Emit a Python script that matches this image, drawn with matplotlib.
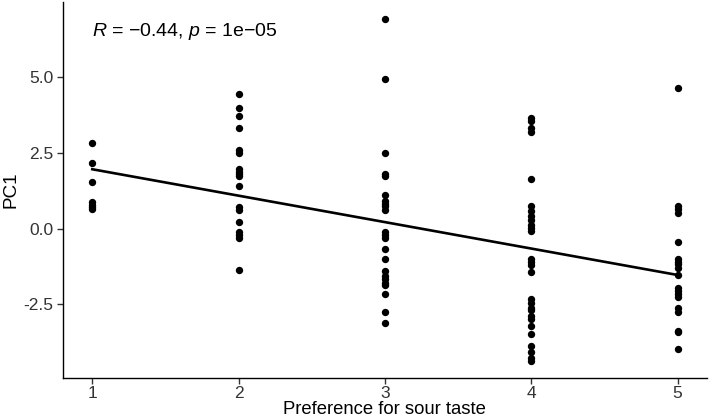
import numpy as np
import matplotlib
matplotlib.use("Agg")
import matplotlib.pyplot as plt

plt.rcParams['font.family'] = ['Liberation Sans', 'DejaVu Sans']
plt.rcParams['mathtext.fontset'] = 'custom'
plt.rcParams['mathtext.it'] = 'Liberation Sans:italic'
plt.rcParams['mathtext.rm'] = 'Liberation Sans'

pref1 = [2.82, 2.15, 1.52, 0.87, 0.78, 0.70, 0.64]
pref2 = [4.45, 3.98, 3.72, 3.33, 2.60, 2.49, 1.97, 1.88, 1.81, 1.72, 1.41,
         0.70, 0.60, 0.21, -0.11, -0.21, -0.32, -1.37]
pref3 = [6.91, 4.95, 2.48, 1.80, 1.74, 1.11, 0.91, 0.82, 0.73, 0.62, -0.11,
         -0.20, -0.32, -0.69, -1.02, -1.40, -1.57, -1.68, -1.79, -1.88, -2.17,
         -2.77, -3.13]
pref4 = [3.66, 3.55, 3.33, 3.20, 1.63, 0.73, 0.57, 0.43, 0.28, 0.13, 0.02,
         -0.09, -1.00, -1.10, -1.20, -1.45, -2.34, -2.45, -2.61, -2.70, -2.89,
         -3.00, -3.22, -3.49, -3.87, -4.09, -4.26, -4.37]
pref5 = [4.65, 0.73, 0.63, 0.52, -0.45, -1.02, -1.10, -1.18, -1.30, -1.55,
         -1.95, -2.05, -2.15, -2.25, -2.61, -2.77, -3.38, -3.43, -3.98]

groups = [1, 2, 3, 4, 5]
series = [pref1, pref2, pref3, pref4, pref5]
yticks = [-2.5, 0.0, 2.5, 5.0]
ytick_labels = ["-2.5", "0.0", "2.5", "5.0"]
annotation = "$R$ = \u22120.44, $p$ = 1e\u221205"

x = np.concatenate([[g] * len(s) for g, s in zip(groups, series)]).astype(float)
y = np.concatenate(series)

fig = plt.figure(figsize=(7.09, 4.19), dpi=100)
ax = fig.add_axes([0.0889, 0.0979, 0.908, 0.897])

ax.scatter(x, y, s=28, color='black', zorder=3, linewidths=0)
slope, intercept = np.polyfit(x, y, 1)
xl = np.array([min(groups), max(groups)], dtype=float)
ax.plot(xl, slope * xl + intercept, color='black', lw=1.9, zorder=2)

ax.set_xlim(0.8, 5.2)
rng = y.max() - y.min()
ax.set_ylim(y.min() - 0.05 * rng, y.max() + 0.05 * rng)
ax.set_xticks(groups)
ax.set_xticklabels([str(g) for g in groups])
ax.set_yticks(yticks)
ax.set_yticklabels(ytick_labels)

for side in ['top', 'right']:
    ax.spines[side].set_visible(False)
for side in ['left', 'bottom']:
    ax.spines[side].set_linewidth(1.0)
    ax.spines[side].set_color('black')
ax.tick_params(axis='both', length=4, width=1.0, color='#333333',
               labelsize=12.5, labelcolor='#333333', pad=3)
ax.tick_params(axis='x', pad=2)

ax.set_xlabel("Preference for sour taste", fontsize=13.3, labelpad=0)
ax.set_ylabel("PC1", fontsize=13.6, labelpad=3)

ax.text(1.0, 6.5, annotation, fontsize=14, ha='left', va='center', color='black')

fig.savefig("out.png", dpi=100, facecolor='white')
